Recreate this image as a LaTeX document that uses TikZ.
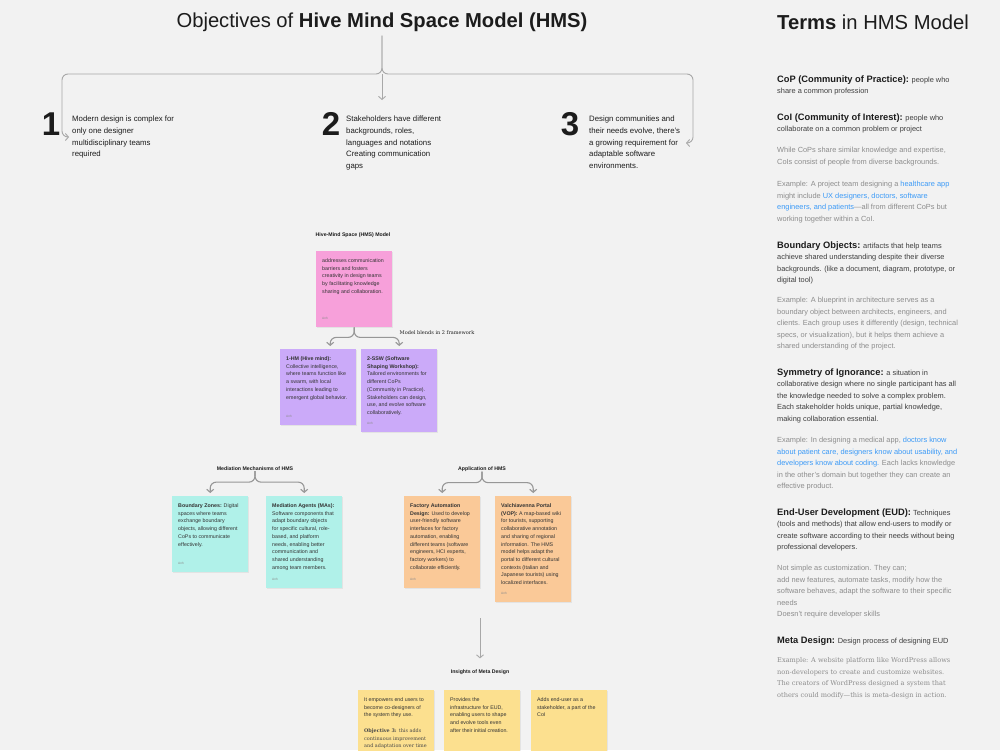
\documentclass[tikz,border=0pt]{standalone}
\usepackage{fontspec}
\setmainfont{Liberation Sans}
\newfontfamily\serf{DejaVu Serif}
\usepackage{xcolor}
\usetikzlibrary{arrows.meta,positioning,calc,shadows}
\definecolor{hmbg}{HTML}{F2F2F2}
\definecolor{hmink}{HTML}{1C1C1C}
\definecolor{hmgray}{HTML}{8C8C8C}
\definecolor{hmline}{HTML}{A8A8A8}
\definecolor{hmlink}{HTML}{3B9AF7}
\definecolor{hmpink}{HTML}{F7A0DA}
\definecolor{hmviolet}{HTML}{CBAAF9}
\definecolor{hmteal}{HTML}{B0F1E9}
\definecolor{hmpeach}{HTML}{FAC998}
\definecolor{hmyellow}{HTML}{FCE08F}

\begin{document}
\begin{tikzpicture}[x=1pt, y=-1pt,
  brk/.style={draw=hmline, line width=0.9pt, rounded corners=6pt},
  fkline/.style={draw=hmline!90!black, line width=1.1pt, rounded corners=6pt},
  arw/.style={-{Straight Barb[length=3pt,width=7pt]}},
  obj/.style={anchor=north west, inner sep=0pt, align=left, text=hmink,
              font=\fontsize{7.8}{11.6}\selectfont},
  num/.style={inner sep=0pt, text=hmink, font=\fontsize{33}{33}\selectfont\bfseries},
  sticky/.style={anchor=north west, fill=#1, inner xsep=6pt, inner ysep=7.5pt,
                 text=hmink!90, font=\fontsize{5.3}{7.7}\selectfont,
                 drop shadow={opacity=0.13, shadow xshift=0.4pt, shadow yshift=-1.1pt}},
  grouplbl/.style={inner sep=0pt, text=hmink, font=\fontsize{5.2}{6}\selectfont\bfseries},
  term/.style={anchor=north west, inner sep=0pt, align=left, text=hmink!85,
               font=\fontsize{7.4}{11.5}\selectfont},
  termnote/.style={term, text=hmgray}
]
\newcommand{\hd}[1]{{\fontsize{9.3}{11.5}\selectfont\bfseries\color{hmink}#1}}
\newcommand{\lnk}[1]{{\color{hmlink}#1}}
\newcommand{\anh}{\par\vfill{\fontsize{3.2}{4}\selectfont\color{hmgray}Anh}}
\newcommand{\sticky}[2]{\begin{minipage}[t][#1pt][s]{64pt}\raggedright #2\anh\end{minipage}}
\newcommand{\stickytop}[2]{\begin{minipage}[t][#1pt][t]{64pt}\raggedright #2\end{minipage}}

\useasboundingbox (0,0) rectangle (1000,750);
\clip (0,0) rectangle (1000,750);
\fill[hmbg] (0,0) rectangle (1000,750);

\node[inner sep=0pt, text=hmink, font=\fontsize{20.2}{24}\selectfont] (ttl) at (382,22)
  {Objectives of \textbf{Hive Mind Space Model (HMS)}};
\node[inner sep=0pt, anchor=west, text=hmink, font=\fontsize{20.2}{24}\selectfont] (terms) at (777,22)
  {\textbf{Terms} in HMS Model};

\coordinate (fk) at (382,74);
\coordinate (in1) at (69,137);
\coordinate (in2) at (382,100);
\coordinate (in3) at (686,143);
\draw[brk,arw] ([yshift=-4pt]ttl.south) -- (fk) -| ([xshift=-7pt]in1) -- (in1);
\draw[brk,arw] ([yshift=-4pt]ttl.south) -- (fk) -| ([xshift=7pt]in3) -- (in3);
\draw[brk,arw] (fk) -- (in2);

\node[num] (n1) at (51,124) {1};
\node[obj] (o1) at (72,116) {Modern design is complex for\\only one designer\\multidisciplinary teams\\required};
\node[num] (n2) at (331,124) {2};
\node[obj] (o2) at (346,116) {Stakeholders have different\\backgrounds, roles,\\languages and notations\\Creating communication\\gaps};
\node[num] (n3) at (570,124) {3};
\node[obj] (o3) at (589,116) {Design communities and\\their needs evolve, there's\\a growing requirement for\\adaptable software\\environments.};

\node[grouplbl] (hmslbl) at (353,235) {Hive-Mind Space (HMS) Model};
\node[sticky=hmpink] (hms) at (316,251) {\sticky{61}{addresses communication\\barriers and fosters\\creativity in design teams\\by facilitating knowledge\\sharing and collaboration.}};
\node[sticky=hmviolet] (hm) at (280,349) {\sticky{61}{\textbf{1-HM (Hive mind):}\\Collective intelligence,\\where teams function like\\a swarm, with local\\interactions leading to\\emergent global behavior.}};
\node[sticky=hmviolet] (ssw) at (361,349) {\sticky{68}{\textbf{2-SSW (Software}\\\textbf{Shaping Workshop):}\\Tailored environments for\\different CoPs\\(Community in Practice).\\Stakeholders can design,\\use, and evolve software\\collaboratively.}};
\node[inner sep=0pt, text=hmink, font=\fontsize{5}{6}\selectfont\serf] (blend) at (437,333) {Model blends in 2 framework};
\coordinate (hmtip) at ([xshift=12pt,yshift=3pt]hm.north);
\coordinate (sswtip) at ([yshift=3pt]ssw.north);
\draw[fkline,arw] (hms.south) -- ++(0,10) -| (hmtip);
\draw[fkline,arw] (hms.south) -- ++(0,10) -| (sswtip);

\node[grouplbl] (medlbl) at (255,469) {Mediation Mechanisms of HMS};
\node[sticky=hmteal] (bz) at (172,496) {\sticky{61}{\textbf{Boundary Zones:} Digital\\spaces where teams\\exchange boundary\\objects, allowing different\\CoPs to communicate\\effectively.}};
\node[sticky=hmteal] (ma) at (266,496) {\sticky{77}{\textbf{Mediation Agents (MAs):}\\Software components that\\adapt boundary objects\\for specific cultural, role-\\based, and platform\\needs, enabling better\\communication and\\shared understanding\\among team members.}};
\coordinate (bztip) at ([yshift=3pt]bz.north);
\coordinate (matip) at ([yshift=3pt]ma.north);
\draw[fkline,arw] (medlbl.south) -- ++(0,11) -| (bztip);
\draw[fkline,arw] (medlbl.south) -- ++(0,11) -| (matip);

\node[grouplbl] (applbl) at (482,469) {Application of HMS};
\node[sticky=hmpeach] (fa) at (404,496) {\sticky{77}{\textbf{Factory Automation}\\\textbf{Design:} Used to develop\\user-friendly software\\interfaces for factory\\automation, enabling\\different teams (software\\engineers, HCI experts,\\factory workers) to\\collaborate efficiently.}};
\node[sticky=hmpeach] (vop) at (495,496) {\sticky{91}{\textbf{Valchiavenna Portal}\\\textbf{(VOP):} A map-based wiki\\for tourists, supporting\\collaborative annotation\\and sharing of regional\\information. The HMS\\model helps adapt the\\portal to different cultural\\contexts (Italian and\\Japanese tourists) using\\localized interfaces.}};
\coordinate (fatip) at ([yshift=3pt]fa.north);
\coordinate (voptip) at ([yshift=3pt]vop.north);
\draw[fkline,arw] (applbl.south) -- ++(0,11) -| (fatip);
\draw[fkline,arw] (applbl.south) -- ++(0,11) -| (voptip);

\node[grouplbl] (insl) at (480,672) {Insights of Meta Design};
\coordinate (insfrom) at (480,618);
\draw[brk,arw] (insfrom) -- ([yshift=11pt]insl.north);
\node[sticky=hmyellow] (y1) at (358,690) {\stickytop{70}{It empowers end users to\\become co-designers of\\the system they use.\\[7.7pt]{\serf\fontsize{4.9}{7.7}\selectfont\color{hmink!80}\textbf{Objective 3:} this adds\\continuous improvement\\and adaptation over time}}};
\node[sticky=hmyellow] (y2) at (444,690) {\stickytop{70}{Provides the\\infrastructure for EUD,\\enabling users to shape\\and evolve tools even\\after their initial creation.}};
\node[sticky=hmyellow] (y3) at (531,690) {\stickytop{70}{Adds end-user as a\\stakeholder, a part of the\\CoI}};

\node[term] (cop) at (777,75.4) {\hd{CoP (Community of Practice):} people who\\share a common profession};
\node[term] (coi) at (777,113.4) {\hd{CoI (Community of Interest):} people who\\collaborate on a common problem or project};
\node[termnote] (cmp) at (777,147.4) {While CoPs share similar knowledge and expertise,\\CoIs consist of people from diverse backgrounds.};
\node[termnote] (ex1) at (777,181.4) {Example: A project team designing a \lnk{healthcare app}\\might include \lnk{UX designers, doctors, software}\\\lnk{engineers, and patients}—all from different CoPs but\\working together within a CoI.};
\node[term] (bo) at (777,241.4) {\hd{Boundary Objects:} artifacts that help teams\\achieve shared understanding despite their diverse\\backgrounds. (like a document, diagram, prototype, or\\digital tool)};
\node[termnote] (ex2) at (777,297.4) {Example: A blueprint in architecture serves as a\\boundary object between architects, engineers, and\\clients. Each group uses it differently (design, technical\\specs, or visualization), but it helps them achieve a\\shared understanding of the project.};
\node[term] (soi) at (777,368.4) {\hd{Symmetry of Ignorance:} a situation in\\collaborative design where no single participant has all\\the knowledge needed to solve a complex problem.\\Each stakeholder holds unique, partial knowledge,\\making collaboration essential.};
\node[termnote] (ex3) at (777,437.4) {Example: In designing a medical app, \lnk{doctors know}\\\lnk{about patient care, designers know about usability, and}\\\lnk{developers know about coding.} Each lacks knowledge\\in the other's domain but together they can create an\\effective product.};
\node[term] (eud) at (777,508.4) {\hd{End-User Development (EUD):} Techniques\\(tools and methods) that allow end-users to modify or\\create software according to their needs without being\\professional developers.};
\node[termnote] (ex4) at (777,565.4) {Not simple as customization. They can;\\add new features, automate tasks, modify how the\\software behaves, adapt the software to their specific\\needs\\Doesn't require developer skills};
\node[term] (meta) at (777,636.4) {\hd{Meta Design:} Design process of designing EUD};
\node[termnote, font=\fontsize{6.6}{11.6}\serf] (ex5) at (777,657.4) {Example: A website platform like WordPress allows\\non-developers to create and customize websites.\\The creators of WordPress designed a system that\\others could modify—this is meta-design in action.};
\end{tikzpicture}
\end{document}
